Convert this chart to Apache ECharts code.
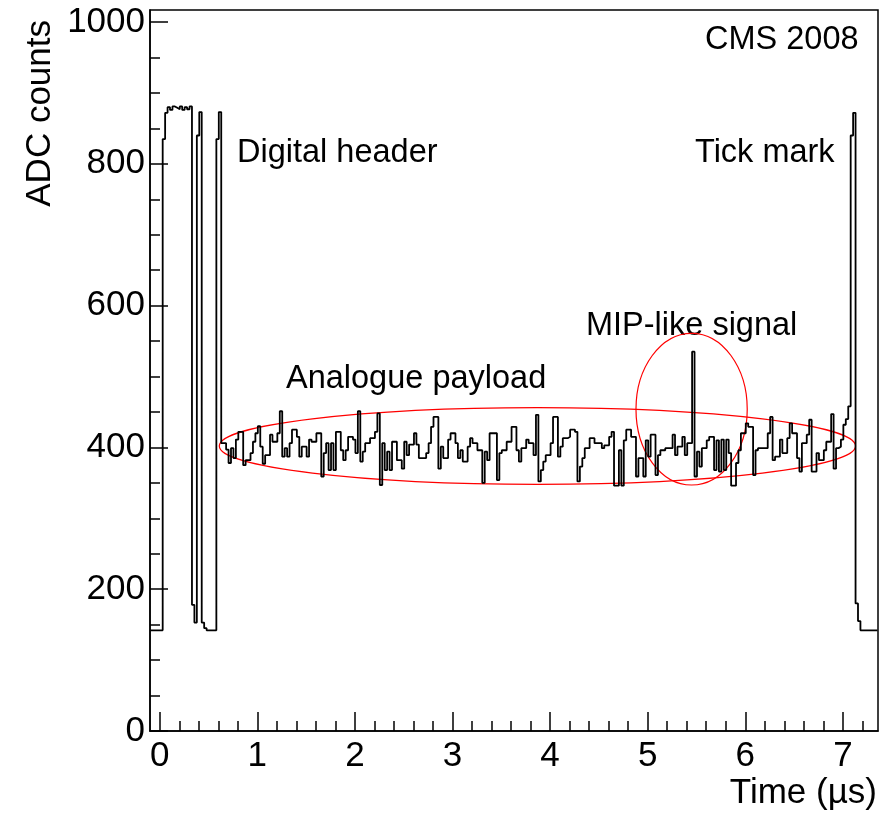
<!DOCTYPE html>
<html lang="en">
<head>
<meta charset="UTF-8">
<title>APV25 frame</title>
<script src="https://cdn.jsdelivr.net/npm/echarts@6/dist/echarts.min.js"></script>
<style>
html, body { margin: 0; padding: 0; background: #fff; }
#main { width: 891px; height: 825px; }
</style>
</head>
<body>
<div id="main"></div>
<script>
// one bin = one APV sample (25 ns)
var binStart = -0.095
var binWidth = 0.025

var beforeFrame = [142, 142, 142, 142, 142]
var header = [835, 872, 880, 876, 881, 879, 877, 881, 876, 880, 877, 881,
    178, 153, 840, 873, 153, 145, 142, 142, 142, 142, 835, 873]
var payload = [
    406, 406, 397, 378, 399, 385, 411, 422, 422, 375,
    382, 382, 392, 408, 420, 430, 401, 377, 389, 389,
    418, 408, 408, 420, 451, 387, 399, 387, 406, 425,
    425, 415, 387, 401, 401, 387, 411, 408, 408, 420,
    420, 359, 392, 406, 368, 406, 368, 422, 422, 396,
    382, 396, 415, 415, 411, 392, 451, 380, 394, 406,
    406, 413, 413, 422, 448, 347, 406, 368, 394, 368,
    408, 408, 382, 382, 370, 408, 389, 404, 404, 420,
    404, 385, 385, 385, 392, 406, 429, 443, 443, 370,
    401, 385, 385, 411, 420, 420, 406, 385, 396, 380,
    380, 401, 413, 406, 406, 396, 396, 350, 394, 382,
    420, 420, 420, 354, 392, 396, 396, 408, 408, 429,
    429, 396, 380, 399, 399, 411, 406, 406, 389, 446,
    352, 368, 380, 389, 389, 406, 443, 443, 387, 401,
    413, 413, 415, 425, 425, 422, 352, 373, 385, 399,
    399, 413, 413, 406, 406, 406, 399, 403, 403, 415,
    422, 346, 346, 396, 346, 410, 425, 425, 415, 415,
    359, 385, 385, 359, 410, 387, 418, 418, 361, 389,
    396, 396, 399, 399, 399, 418, 389, 401, 401, 415,
    389, 406, 406, 535, 359, 394, 373, 399, 399, 410,
    415, 415, 368, 410, 366, 411, 368, 411, 392, 346,
    346, 378, 396, 420, 420, 434, 429, 429, 361, 396,
    399, 399, 399, 399, 420, 443, 382, 387, 387, 411,
    392, 392, 413, 434, 420, 420, 385, 366, 406, 406,
    418, 439, 366, 366, 392, 382, 382, 396, 408, 408,
    447, 370, 399, 401, 411, 432, 440, 458]
var tickMark = [840, 872, 180, 155]
var afterFrame = [142, 142, 142, 142, 142, 142, 142]

var xTicks = [0, 1, 2, 3, 4, 5, 6, 7]
var yTicks = [0, 200, 400, 600, 800, 1000]

// red rings drawn on the picture: [centre time, centre ADC, half width, half height]
var rings = [[3.87, 402, 3.26, 54], [5.45, 454, 0.57, 107]]

var counts = beforeFrame.concat(header, payload, tickMark, afterFrame)
var steps = counts.map(function (v, i) { return [binStart + i * binWidth, v] })
steps.push([binStart + counts.length * binWidth, counts[counts.length - 1]])

var xMinor = []
for (var i = 0; i <= 36; i++) xMinor.push(+(i * 0.2).toFixed(1))
var yMinor = []
for (var v = 0; v <= 1000; v += 50) yMinor.push(v)

var font = 'Liberation Sans, Arial, Helvetica, sans-serif'
var black = { color: '#000', width: 1.5 }
var plain = function (val) { return String(val) }

var myChart = echarts.init(document.getElementById('main'))
var option = {
    animation: false,
    backgroundColor: '#fff',
    grid: { left: 150, right: 13, top: 10, bottom: 94, show: true, borderColor: '#000', borderWidth: 1.5 },
    xAxis: [{
        type: 'value', min: -0.1, max: 7.36, position: 'bottom',
        axisLine: { show: true, onZero: false, lineStyle: black },
        axisTick: { inside: true, length: 19, customValues: xTicks, lineStyle: black },
        axisLabel: { customValues: xTicks, formatter: plain, color: '#000', fontSize: 35, fontFamily: font, margin: 8 },
        splitLine: { show: false }
    }, {
        type: 'value', min: -0.1, max: 7.36, position: 'bottom',
        axisLine: { show: false, onZero: false },
        axisTick: { inside: true, length: 10, customValues: xMinor, lineStyle: black },
        axisLabel: { show: false },
        splitLine: { show: false }
    }],
    yAxis: [{
        type: 'value', min: 0, max: 1017, position: 'left',
        axisLine: { show: true, onZero: false, lineStyle: black },
        axisTick: { inside: true, length: 18, customValues: yTicks, lineStyle: black },
        axisLabel: { customValues: yTicks, formatter: plain, color: '#000', fontSize: 35, fontFamily: font, margin: 5 },
        splitLine: { show: false }
    }, {
        type: 'value', min: 0, max: 1017, position: 'left',
        axisLine: { show: false, onZero: false },
        axisTick: { inside: true, length: 10, customValues: yMinor, lineStyle: black },
        axisLabel: { show: false },
        splitLine: { show: false }
    }],
    series: [{
        type: 'line',
        step: 'end',
        data: steps,
        symbol: 'none',
        lineStyle: { color: '#000', width: 1.8 }
    }, {
        type: 'custom',
        data: rings,
        renderItem: function (params, api) {
            var c = api.coord([api.value(0), api.value(1)])
            var s = api.size([api.value(2), api.value(3)])
            return {
                type: 'ellipse',
                shape: { cx: c[0], cy: c[1], rx: s[0], ry: s[1] },
                style: { fill: 'none', stroke: '#ff0000', lineWidth: 1.2 }
            }
        },
        z: 3
    }],
    graphic: [
        { type: 'text', left: 705, top: 24, style: { text: 'CMS 2008', font: '32.5px ' + font, fill: '#000' } },
        { type: 'text', left: 237, top: 137, style: { text: 'Digital header', font: '32.5px ' + font, fill: '#000' } },
        { type: 'text', left: 695, top: 137, style: { text: 'Tick mark', font: '32.5px ' + font, fill: '#000' } },
        { type: 'text', left: 586, top: 310, style: { text: 'MIP-like signal', font: '32.5px ' + font, fill: '#000' } },
        { type: 'text', left: 286, top: 363, style: { text: 'Analogue payload', font: '32.5px ' + font, fill: '#000' } },
        { type: 'text', right: 14, top: 776, style: { text: 'Time (\u00b5s)', font: '35px ' + font, fill: '#000' } },
        { type: 'text', x: 23, y: 20, rotation: Math.PI / 2,
          style: { text: 'ADC counts', font: '35px ' + font, fill: '#000', align: 'right', verticalAlign: 'top' } }
    ]
}
myChart.setOption(option)
</script>
</body>
</html>
